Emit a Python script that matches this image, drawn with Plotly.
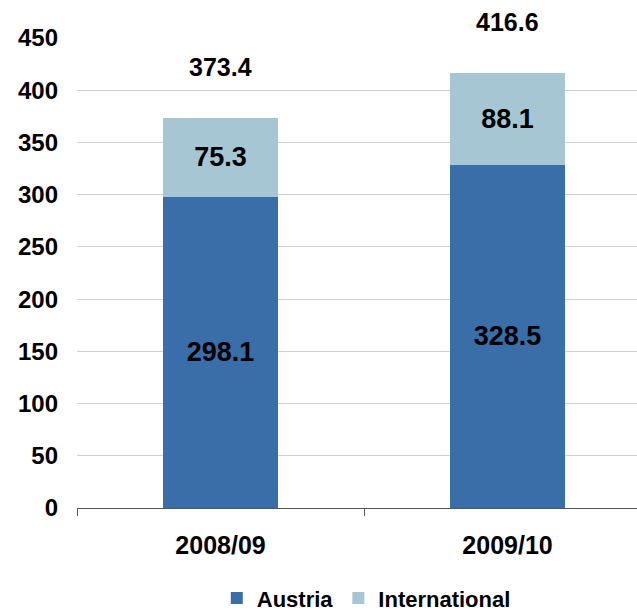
import plotly.graph_objects as go

categories = ["2008/09", "2009/10"]
austria = [298.1, 328.5]
international = [75.3, 88.1]
totals = [373.4, 416.6]
y_ticks = [0, 50, 100, 150, 200, 250, 300, 350, 400, 450]

FONT = "Liberation Sans, Arial, sans-serif"

fig = go.Figure()
fig.add_trace(go.Bar(
    name="Austria", x=categories, y=austria, marker_color="#3A6EA9",
    marker_line_width=0, width=0.4,
    text=[f"{v:.1f}" for v in austria], textposition="inside",
    insidetextanchor="middle",
    textfont=dict(family=FONT, size=27, color="black", weight="bold"),
))
fig.add_trace(go.Bar(
    name="International", x=categories, y=international, marker_color="#A6C6D3",
    marker_line_width=0, width=0.4,
    text=[f"{v:.1f}" for v in international], textposition="inside",
    insidetextanchor="middle",
    textfont=dict(family=FONT, size=27, color="black", weight="bold"),
))

for c, t in zip(categories, totals):
    fig.add_annotation(x=c, y=t, text=f"{t:.1f}", showarrow=False,
                       yanchor="middle", yshift=51,
                       font=dict(family=FONT, size=25, color="black", weight="bold"))

fig.update_layout(
    barmode="stack",
    width=637, height=611,
    margin=dict(l=77, r=0, t=38, b=103),
    plot_bgcolor="white", paper_bgcolor="white",
    font=dict(family=FONT, color="black"),
    uniformtext=dict(mode=False),
    legend=dict(orientation="h", xref="container", yref="container",
                traceorder="normal",
                x=0.575, xanchor="center", y=0.021, yanchor="middle",
                font=dict(family=FONT, size=22, color="black", weight="bold"),
                itemwidth=30, tracegroupgap=0),
    xaxis=dict(range=[-0.5, 1.451], showgrid=False, showline=True,
               linecolor="#555555", linewidth=1,
               ticks="outside", tickson="boundaries", ticklen=7,
               tickcolor="#555555",
               tickfont=dict(family=FONT, size=25, color="black", weight="bold"),
               ticklabelstandoff=15),
    yaxis=dict(range=[0, 450], tickvals=y_ticks, showgrid=True,
               gridcolor="#D0D0D0", gridwidth=1, zeroline=False, showline=False,
               ticks="", ticklabelstandoff=18,
               tickfont=dict(family=FONT, size=24, color="black", weight="bold")),
)

fig.write_html("out.html")
